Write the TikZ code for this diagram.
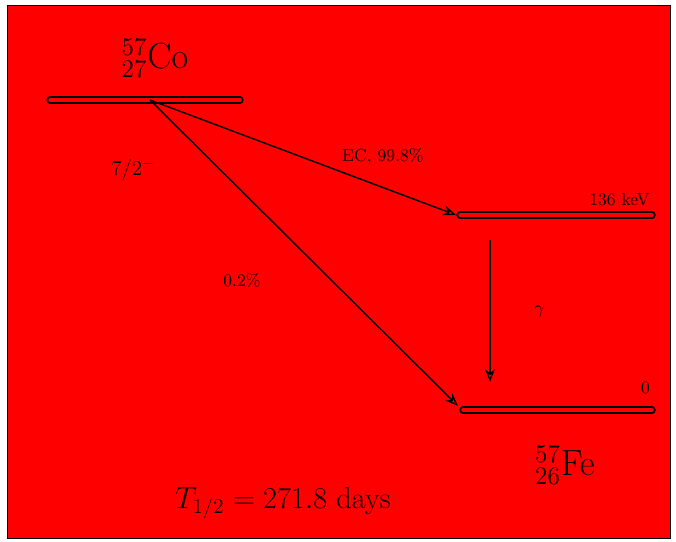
\documentclass[tikz,border=0pt]{standalone}
\usepackage{amsmath}
\usepackage{tikz}
\usetikzlibrary{arrows.meta, positioning, calc}
\definecolor{bgred}{HTML}{FF0000}

\begin{document}
\begin{tikzpicture}[
    x=0.02cm, y=-0.02cm,
    level/.style={line width=1.1pt, double=bgred, double distance=2pt, line cap=round},
    arr/.style={-{Stealth[length=2.6mm, width=2mm, open]}, line width=0.8pt},
    lbl/.style={font=\normalsize, inner sep=1pt},
    nuc/.style={font=\huge, inner sep=1pt}
]
% frame
\useasboundingbox (0,0) rectangle (676,541);
\draw[fill=bgred, draw=black, line width=0.4pt] (7,5) rectangle (670,538);

% levels
\coordinate (parL) at (50,100);
\coordinate (parR) at (240,100);
\coordinate (excL) at (460,215);
\coordinate (excR) at (652,215);
\coordinate (gndL) at (463,410);
\coordinate (gndR) at (652,410);
\draw[level] (parL) -- (parR);
\draw[level] (excL) -- (excR);
\draw[level] (gndL) -- (gndR);

% labels of the levels
\node[nuc] (parent) at (155,58) {${}^{57}_{27}\mathrm{Co}$};
\node[lbl, font=\large] (spin) at (133,170) {$7/2^-$};
\node[lbl, above left=4pt and 0pt of excR] (excE) {136 keV};
\node[lbl, above left=8pt and 0pt of gndR] (gndE) {0};
\node[nuc] (daughter) at (565,465) {${}^{57}_{26}\mathrm{Fe}$};
\node[lbl, font=\LARGE] (halflife) at (283,503) {$T_{1/2} = 271.8$ days};

% transitions
\coordinate (ecS) at (150,100);
\coordinate (ecA) at (456,215);
\coordinate (ecB) at (458,406);
\coordinate (gamS) at (490,240);
\coordinate (gamE) at (490,382);
\draw[arr] (ecS) -- node[lbl, pos=0.62, above right=2pt and 0pt] {EC, 99.8\%} (ecA);
\draw[arr] (ecS) -- (ecB);
\node[lbl] (direct) at (242,280) {0.2\%};
\draw[arr] (gamS) -- node[lbl, right=24pt] {$\gamma$} (gamE);
\end{tikzpicture}
\end{document}
